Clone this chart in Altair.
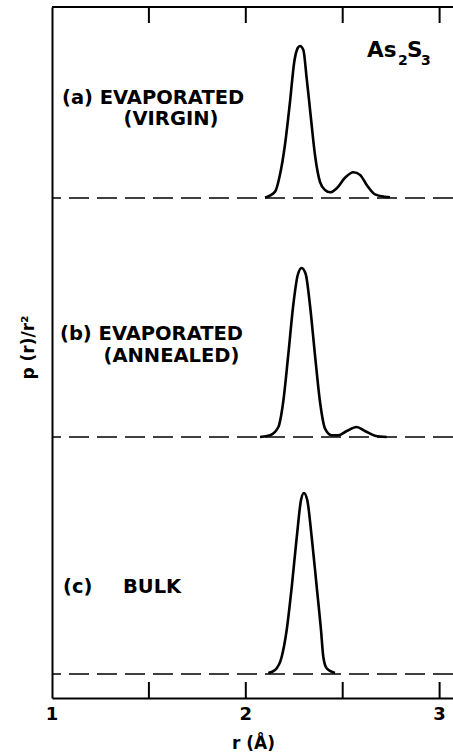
import altair as alt
import pandas as pd

# ---- data ----
# (a) evaporated (virgin)
r_a = [2.099, 2.151, 2.176, 2.202, 2.228, 2.250, 2.268, 2.280, 2.297, 2.314, 2.336, 2.357,
       2.383, 2.409, 2.435, 2.469, 2.512, 2.555, 2.590, 2.624, 2.667, 2.718, 2.744]
h_a = [0.3, 6.3, 23, 53, 96, 136, 150, 152, 148, 120, 80, 43,
       16, 8, 5.7, 9.7, 20.3, 25.7, 23, 13, 3.7, 1.3, 0.7]
# (b) evaporated (annealed)
r_b = [2.073, 2.125, 2.168, 2.193, 2.219, 2.245, 2.268, 2.288, 2.309, 2.331, 2.357, 2.383,
       2.409, 2.443, 2.477, 2.521, 2.572, 2.615, 2.667, 2.727]
h_b = [0, 1.7, 10, 35, 82, 132, 162, 169, 163, 132, 82, 35,
       8.3, 1.7, 1.7, 6, 10, 6, 1.3, 0]
# (c) bulk
r_c = [2.116, 2.151, 2.185, 2.211, 2.237, 2.263, 2.285, 2.300, 2.317, 2.340, 2.366, 2.388,
       2.400, 2.417, 2.443, 2.460]
h_c = [1, 4, 17, 44, 87, 137, 174, 181, 174, 137, 87, 44,
       17, 5.7, 2.3, 1]

samples = ["a", "b", "c"]
baselines = [500, 261, 24]          # vertical offset of each curve (stacked)
x_ticks = [1.5, 2, 2.5, 3]
x_labels = [1, 2, 3]

rows = []
for s, base, rr, hh in zip(samples, baselines, [r_a, r_b, r_c], [h_a, h_b, h_c]):
    for i, (r, h) in enumerate(zip(rr, hh)):
        rows.append({"sample": s, "order": i, "r": r, "y": base + h})
curves = pd.DataFrame(rows)
base_df = pd.DataFrame({"sample": samples, "y": baselines})
tick_df = pd.DataFrame({"r": x_ticks})
lab_df = pd.DataFrame({"r": x_labels, "t": [str(v) for v in x_labels]})

W, H = 401, 691
FONT = "DejaVu Sans"
XMAX = 1 + W / 193.8

xscale = alt.Scale(domain=[1, XMAX], nice=False, zero=False)
yscale = alt.Scale(domain=[0, 691], nice=False, zero=False)

xaxis = alt.Axis(values=x_labels, labels=False, ticks=False,
                 domain=True, domainColor="black", domainWidth=2, grid=False,
                 title="r (Å)", titleFont=FONT, titleFontSize=17,
                 titleFontWeight="bold", titleColor="black", titlePadding=37,
                 titleX=201)
yaxis = alt.Axis(labels=False, ticks=False, domain=True, domainColor="black", domainWidth=2,
                 grid=False,
                 title="p (r)/r²", titleFont=FONT, titleFontSize=17, titleFontWeight="bold",
                 titleColor="black", titleX=-15, titleY=340)

lines = alt.Chart(curves).mark_line(color="black", strokeWidth=2.6, interpolate="monotone").encode(
    x=alt.X("r:Q", scale=xscale, axis=xaxis),
    y=alt.Y("y:Q", scale=yscale, axis=yaxis),
    detail="sample:N",
    order="order:Q",
)

dashes = alt.Chart(base_df).mark_rule(color="black", strokeWidth=1.6, strokeDash=[20, 8]).encode(
    y=alt.Y("y:Q", scale=yscale, axis=yaxis),
)

ticks_bottom = alt.Chart(tick_df).mark_rule(color="black", strokeWidth=2).encode(
    x=alt.X("r:Q", scale=xscale, axis=xaxis), y=alt.value(H - 16), y2=alt.value(H)
)
ticks_top = alt.Chart(tick_df).mark_rule(color="black", strokeWidth=2).encode(
    x=alt.X("r:Q", scale=xscale, axis=xaxis), y=alt.value(0), y2=alt.value(16)
)
top_line = alt.Chart(tick_df).mark_rule(color="black", strokeWidth=2).encode(
    x=alt.value(0), x2=alt.value(W), y=alt.value(0)
)
tick_labels = alt.Chart(lab_df).mark_text(
    font=FONT, fontSize=18, fontWeight="bold", color="black", align="center", baseline="middle"
).encode(x=alt.X("r:Q", scale=xscale, axis=xaxis), y=alt.value(H + 17), text="t:N")

def label(text, x, y, align="left", size=19):
    return alt.Chart(pd.DataFrame({"t": [text]})).mark_text(
        font=FONT, fontSize=size, fontWeight="bold", color="black",
        align=align, baseline="middle"
    ).encode(text="t:N", x=alt.value(x), y=alt.value(y))

texts = [
    label("(a) EVAPORATED", 10, 90.5, size=19.5),
    label("(VIRGIN)", 119, 112, align="center", size=19.5),
    label("(b) EVAPORATED", 8, 326.5, size=19.5),
    label("(ANNEALED)", 119.5, 349, align="center", size=19.5),
    label("(c)", 11, 580, size=19.5),
    label("BULK", 71, 580, size=19.5),
    label("As", 315, 43.5, size=21.5),
    label("2", 346, 54, size=14),
    label("S", 355, 43.5, size=21.5),
    label("3", 369, 54, size=14),
]

chart = alt.layer(lines, dashes, ticks_bottom, ticks_top, top_line, tick_labels, *texts).properties(
    width=W, height=H,
    autosize=alt.AutoSizeParams(type="none"),
    padding={"left": 52, "top": 7, "right": 0, "bottom": 58},
    background="white",
).configure_view(stroke=None)

chart.save("out.html", embed_options={"renderer": "svg", "actions": False})
